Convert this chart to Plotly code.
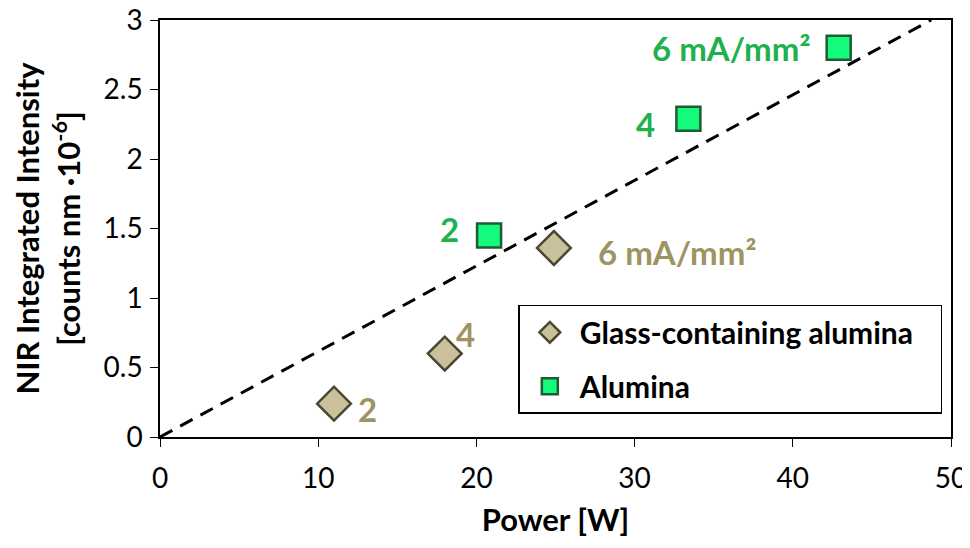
import plotly.graph_objects as go
import numpy as np

glass_power = [11.0, 18.0, 24.9]
glass_intensity = [0.24, 0.60, 1.36]
glass_labels = ["2", "4", "6 mA/mm²"]

alumina_power = [20.8, 33.4, 42.9]
alumina_intensity = [1.45, 2.29, 2.80]
alumina_labels = ["2", "4", "6 mA/mm²"]

x_ticks = [0, 10, 20, 30, 40, 50]
y_ticks = [0, 0.5, 1, 1.5, 2, 2.5, 3]

# linear fit through origin over all points
allx = np.array(glass_power + alumina_power)
ally = np.array(glass_intensity + alumina_intensity)
slope = float((allx * ally).sum() / (allx ** 2).sum())
fit_x = [0, 3.0 / slope]
fit_y = [slope * v for v in fit_x]

FONT = "Lato"
GREEN_TXT = "#1db24e"
TAN_TXT = "#9d9462"
NB = "\u00a0"

fig = go.Figure()
fig.add_trace(go.Scatter(x=fit_x, y=fit_y, mode="lines", showlegend=False,
                         line=dict(color="black", width=3, dash="14px,9px")))
fig.add_trace(go.Scatter(x=glass_power, y=glass_intensity, mode="markers",
                         name="Glass-containing alumina" + NB * 3, legendgroup="g",
                         marker=dict(symbol="diamond", size=26, color="#c9c09c",
                                     line=dict(color="#4a4630", width=2.5))))
fig.add_trace(go.Scatter(x=alumina_power, y=alumina_intensity, mode="markers",
                         name="Alumina", legendgroup="a",
                         marker=dict(symbol="square", size=24, color="#14fb7c",
                                     line=dict(color="#1d5c34", width=2.5))))

ann = []
g_off = [(33, -5), (21, 20), (123, -4)]
for x, y, t, (dx, dy) in zip(glass_power, glass_intensity, glass_labels, g_off):
    ann.append(dict(x=x, y=y, text=t, showarrow=False, xshift=dx, yshift=dy,
                    font=dict(family=FONT, size=33, color=TAN_TXT, weight="bold")))
a_off = [(-40, 6), (-43, -5), (-108, 0)]
for x, y, t, (dx, dy) in zip(alumina_power, alumina_intensity, alumina_labels, a_off):
    ann.append(dict(x=x, y=y, text=t, showarrow=False, xshift=dx, yshift=dy,
                    font=dict(family=FONT, size=33, color=GREEN_TXT, weight="bold")))

fig.update_layout(
    width=962, height=540,
    margin=dict(l=152, r=19, t=12, b=111),
    paper_bgcolor="white", plot_bgcolor="white",
    font=dict(family=FONT, size=28, color="black"),
    annotations=ann,
    legend=dict(x=0.453, y=0.317, xanchor="left", yanchor="top",
                bordercolor="black", borderwidth=1.5, bgcolor="white",
                font=dict(family=FONT, size=30, color="black", weight="bold"),
                traceorder="grouped", tracegroupgap=12,
                itemwidth=50),
    xaxis=dict(range=[0, 50], tickvals=x_ticks, ticks="outside", ticklen=8,
               tickcolor="black", showline=True, linecolor="black", linewidth=1.5,
               mirror=True, showgrid=False, zeroline=False, automargin=False,
               ticklabelstandoff=8, ticklabeloverflow="allow",
               tickfont=dict(family=FONT, size=28),
               title=dict(text="Power [W]", standoff=16,
                          font=dict(family=FONT, size=31, weight="bold"))),
    yaxis=dict(range=[0, 3], tickvals=y_ticks, ticks="outside", ticklen=8,
               tickcolor="black", showline=True, linecolor="black", linewidth=1.5,
               mirror=True, showgrid=False, zeroline=False, automargin=False,
               ticklabeloverflow="allow", ticklabelstandoff=2,
               tickfont=dict(family=FONT, size=28),
               title=dict(text="NIR Integrated Intensity<br>[counts nm ·10<sup>-6</sup>]",
                          standoff=14,
                          font=dict(family=FONT, size=31, weight="bold"))),
)

fig.write_html("out.html")
